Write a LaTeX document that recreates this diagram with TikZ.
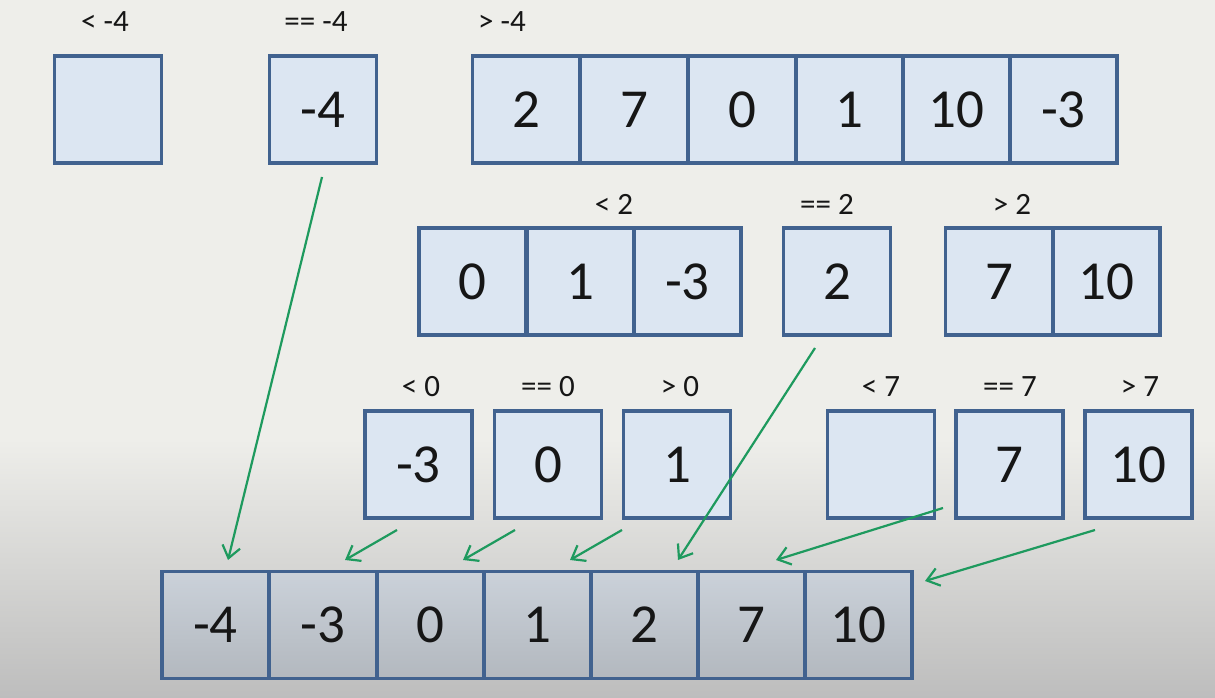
\documentclass[tikz,border=0pt]{standalone}
\usepackage{fontspec}
\setmainfont{Carlito}
\usetikzlibrary{arrows.meta}
\definecolor{boxblue}{HTML}{41628F}
\definecolor{cellfill}{HTML}{DCE6F2}
\definecolor{arrgreen}{HTML}{1E9A5E}
\definecolor{bgtop}{HTML}{EEEEEA}
\definecolor{bgbot}{HTML}{BDBDBD}
\definecolor{txt}{HTML}{161616}
\tikzset{
  cellbox/.style={draw=boxblue, line width=3.5pt, fill=cellfill, minimum width=107pt, minimum height=107pt, inner sep=0pt, text=txt, font=\fontsize{55}{55}\selectfont},
  botcell/.style={cellbox, fill=none, top color=cellfill!75!gray!90, bottom color=cellfill!55!gray},
  lbl/.style={text=txt, inner sep=0pt, font=\fontsize{31}{31}\selectfont},
  garrow/.style={draw=arrgreen, line width=2.2pt, -{Straight Barb[length=12pt,width=18pt]}}
}
\begin{document}
\begin{tikzpicture}[x=1pt,y=-1pt]
\useasboundingbox (0,0) rectangle (1215,698);
\fill[bgtop] (0,0) rectangle (1215,440);
\shade[top color=bgtop, bottom color=bgbot] (0,439) rectangle (1215,698);
% top row
\node[lbl] (l1) at (105,22) {< -4};
\node[lbl] (l2) at (316,22) {== -4};
\node[lbl] (l3) at (502,22) {> -4};
\node[cellbox] (lt) at (108,109.5) {};
\node[cellbox] (eq) at (323,109.5) {-4};
\node[cellbox] (g1) at (526,109.5) {2};
\node[cellbox] (g2) at (634,109.5) {7};
\node[cellbox] (g3) at (742,109.5) {0};
\node[cellbox] (g4) at (849.5,109.5) {1};
\node[cellbox] (g5) at (956.5,109.5) {10};
\node[cellbox] (g6) at (1063.5,109.5) {-3};
% second row
\node[lbl] (m1) at (614,204) {< 2};
\node[lbl] (m2) at (827,204) {== 2};
\node[lbl] (m3) at (1012,204) {> 2};
\node[cellbox] (a1) at (472.5,281.5) {0};
\node[cellbox] (a2) at (580.5,281.5) {1};
\node[cellbox] (a3) at (687.5,281.5) {-3};
\node[cellbox] (pv) at (837,281.5) {2};
\node[cellbox] (c1) at (999,281.5) {7};
\node[cellbox] (c2) at (1106.5,281.5) {10};
% third row
\node[lbl] (n1) at (421,387) {< 0};
\node[lbl] (n2) at (548,387) {== 0};
\node[lbl] (n3) at (680,387) {> 0};
\node[lbl] (n4) at (881,387) {< 7};
\node[lbl] (n5) at (1010,387) {== 7};
\node[lbl] (n6) at (1140,387) {> 7};
\node[cellbox] (d1) at (418.5,464.5) {-3};
\node[cellbox] (d2) at (548,464.5) {0};
\node[cellbox] (d3) at (677,464.5) {1};
\node[cellbox] (e1) at (881,464.5) {};
\node[cellbox] (e2) at (1009.5,464.5) {7};
\node[cellbox] (e3) at (1138.5,464.5) {10};
% bottom row
\node[botcell] (b1) at (215.5,625) {-4};
\node[botcell] (b2) at (323,625) {-3};
\node[botcell] (b3) at (430.5,625) {0};
\node[botcell] (b4) at (537.5,625) {1};
\node[botcell] (b5) at (644.5,625) {2};
\node[botcell] (b6) at (751.5,625) {7};
\node[botcell] (b7) at (858.5,625) {10};
% arrow endpoints
\coordinate (s1) at (322,177); \coordinate (t1) at (228,560);
\coordinate (s2) at (397,530); \coordinate (t2) at (345,560);
\coordinate (s3) at (515,530); \coordinate (t3) at (463,560);
\coordinate (s4) at (622,530); \coordinate (t4) at (570,560);
\coordinate (s5) at (815,348); \coordinate (t5) at (678,560);
\coordinate (s6) at (943,508); \coordinate (t6) at (776,560);
\coordinate (s7) at (1095,530); \coordinate (t7) at (925,581);
\foreach \i in {1,...,7} { \draw[garrow] (s\i) -- (t\i); }
\end{tikzpicture}
\end{document}
